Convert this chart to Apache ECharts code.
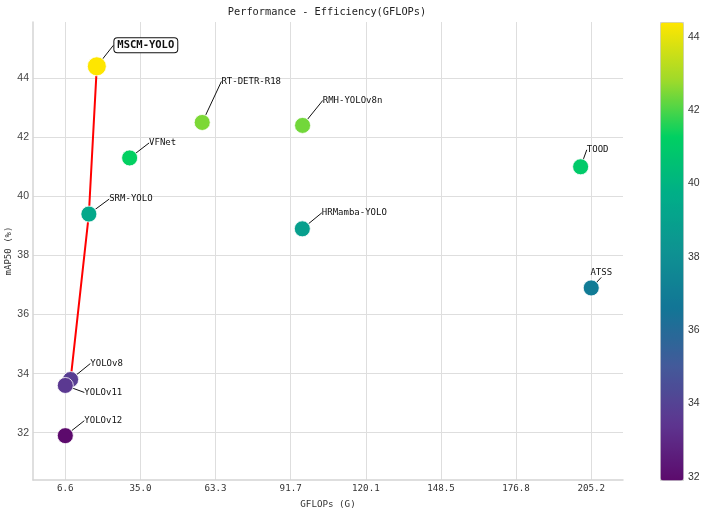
<!DOCTYPE html>
<html>
<head>
<meta charset="utf-8">
<script src="https://cdn.jsdelivr.net/npm/echarts@6/dist/echarts.min.js"></script>
<style>
html,body{margin:0;padding:0;background:#fff}
#main{width:703px;height:511px}
</style>
</head>
<body>
<div id="main"></div>
<script>
// data
var models = ['YOLOv8', 'YOLOv11', 'YOLOv12', 'RT-DETR-R18', 'VFNet', 'TOOD', 'ATSS', 'RMH-YOLOv8n', 'HRMamba-YOLO', 'SRM-YOLO', 'MSCM-YOLO'];
var gflops = [8.6, 6.6, 6.6, 58.3, 30.9, 201.2, 205.2, 96.2, 96.1, 15.5, 18.5];
var map50 = [33.8, 33.6, 31.9, 42.5, 41.3, 41.0, 36.9, 42.4, 38.9, 39.4, 44.4];
var frontier = ['YOLOv11', 'YOLOv8', 'SRM-YOLO', 'MSCM-YOLO'];
var xTicks = [6.6, 35.0, 63.3, 91.7, 120.1, 148.5, 176.8, 205.2];
var yTicks = [32, 34, 36, 38, 40, 42, 44];
var cbarTicks = [32, 34, 36, 38, 40, 42, 44];

// label offsets (px) from point centre
var labelOffset = {
    'YOLOv8': [36, -16], 'YOLOv11': [38, 7], 'YOLOv12': [38, -15],
    'RT-DETR-R18': [49, -41], 'VFNet': [33, -15], 'TOOD': [17, -17],
    'ATSS': [10, -15], 'RMH-YOLOv8n': [50, -25], 'HRMamba-YOLO': [52, -16],
    'SRM-YOLO': [42, -15], 'MSCM-YOLO': [49, -21]
};
var cmap = ['#5c0a6c', '#5d3690', '#435a9a', '#127596', '#0e9292', '#00ae88', '#00d062', '#a0da2a', '#ffe600'];
var hei = '"DejaVu Sans Mono", monospace';
var arial = '"Liberation Sans", Arial, sans-serif';

var points = models.map(function (m, i) {
    var item = { name: m, value: [gflops[i], map50[i]] };
    if (m === 'MSCM-YOLO') {
        item.symbolSize = 19;
        item.label = {
            fontSize: 10.5, fontWeight: 'bold', color: '#111',
            backgroundColor: '#fff', borderColor: '#111', borderWidth: 1,
            borderRadius: 3, padding: [2, 3, 1, 3]
        };
    }
    return item;
});
var front = frontier.map(function (m) {
    var i = models.indexOf(m);
    return [gflops[i], map50[i]];
});

var chart = echarts.init(document.getElementById('main'));
chart.setOption({
    animation: false,
    title: {
        text: 'Performance - Efficiency(GFLOPs)',
        left: 322, top: 2, textAlign: 'center',
        textStyle: { fontFamily: hei, fontSize: 10.3, fontWeight: 'normal', color: '#222' }
    },
    grid: [
        { left: 33, right: 80, top: 22, bottom: 31, outerBoundsMode: 'none', containLabel: false },
        { left: 660, top: 22, width: 23, height: 458, outerBoundsMode: 'none', containLabel: false }
    ],
    xAxis: [{
        type: 'value', min: -5.6, max: 217.2,
        name: 'GFLOPs (G)', nameLocation: 'middle', nameGap: 20, nameMoveOverlap: false,
        nameTextStyle: { fontFamily: hei, fontSize: 9.2, color: '#333' },
        axisLine: { onZero: false, lineStyle: { color: '#d4d4d4', width: 1.5 } },
        axisTick: { show: false, customValues: xTicks },
        axisLabel: { customValues: xTicks, margin: 4, fontFamily: hei, fontSize: 9.2, color: '#333',
            formatter: function (v) { return v.toFixed(1); } },
        splitLine: { lineStyle: { color: '#dedede' } }
    }, {
        type: 'value', gridIndex: 1, show: false, min: 0, max: 1
    }],
    yAxis: [{
        type: 'value', min: 30.4, max: 45.9,
        name: 'mAP50 (%)', nameLocation: 'middle', nameGap: 20, nameMoveOverlap: false,
        nameTextStyle: { fontFamily: hei, fontSize: 9, color: '#333' },
        axisLine: { show: true, onZero: false, lineStyle: { color: '#d4d4d4', width: 1.5 } },
        axisTick: { show: false, customValues: yTicks },
        axisLabel: { customValues: yTicks, margin: 4, fontFamily: arial, fontSize: 10.5, color: '#444' },
        splitLine: { lineStyle: { color: '#dedede' } }
    }, {
        type: 'value', gridIndex: 1, position: 'right', min: 31.91, max: 44.41,
        axisLine: { show: false, onZero: false }, splitLine: { show: false },
        axisTick: { show: false, customValues: cbarTicks },
        axisLabel: { customValues: cbarTicks, margin: 5, fontFamily: arial, fontSize: 10.5, color: '#333' }
    }],
    visualMap: {
        type: 'continuous', min: 31.91, max: 44.41, dimension: 1, seriesIndex: 1,
        calculable: false, orient: 'vertical', left: 660, top: 22, padding: 0,
        itemWidth: 23, itemHeight: 458, text: null, showLabel: false,
        borderColor: '#cfcfcf', borderWidth: 1,
        inRange: { color: cmap }
    },
    series: [{
        type: 'line', data: front, symbol: 'none', z: 1, silent: true,
        lineStyle: { color: '#ff0000', width: 2 }
    }, {
        type: 'scatter', data: points, symbolSize: 16, z: 3,
        itemStyle: { borderColor: '#fff', borderWidth: 0.8, opacity: 1 },
        label: {
            show: true, position: 'inside', formatter: '{b}',
            fontFamily: hei, fontSize: 9, color: '#111'
        },
        labelLine: { show: true, lineStyle: { color: '#111', width: 1 } },
        labelLayout: function (p) {
            var o = labelOffset[models[p.dataIndex]];
            return { dx: o[0], dy: o[1] };
        }
    }]
});
</script>
</body>
</html>
